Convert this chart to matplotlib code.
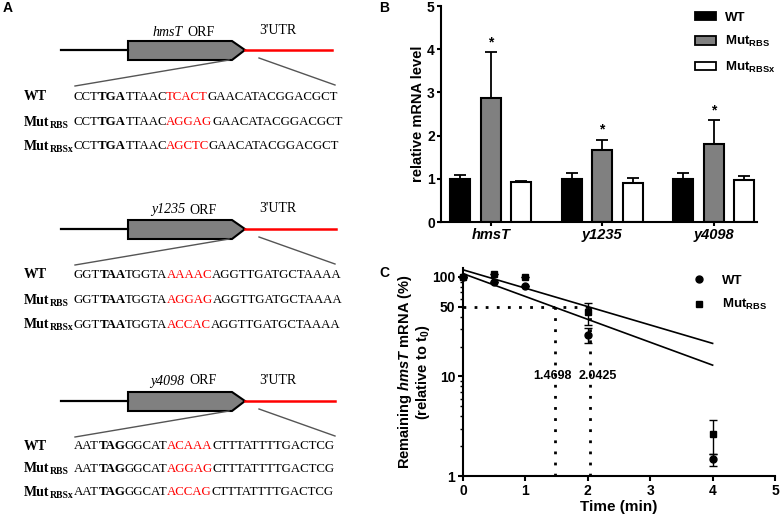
import matplotlib
matplotlib.use("Agg")
import matplotlib.pyplot as plt
from matplotlib.patches import Polygon, Rectangle
from matplotlib.lines import Line2D
from matplotlib.font_manager import FontProperties
from matplotlib.textpath import TextPath

plt.rcParams['font.family'] = ['Liberation Sans', 'DejaVu Sans']
plt.rcParams['mathtext.fontset'] = 'custom'
plt.rcParams['mathtext.rm'] = 'Liberation Sans'
plt.rcParams['mathtext.bf'] = 'Liberation Sans:bold'
plt.rcParams['mathtext.it'] = 'Liberation Sans:italic:bold'

#data panel A ---------------------------
genes = ["hmsT", "y1235", "y4098"]
row_names = [("WT", ""), ("Mut", "RBS"), ("Mut", "RBSx")]
# each sequence = (prefix, stop codon, middle, red site, tail)
seqs = {
    "hmsT": [("CCT", "TGA", "TTAAC", "TCACT", "GAACATACGGACGCT"),
             ("CCT", "TGA", "TTAAC", "AGGAG", "GAACATACGGACGCT"),
             ("CCT", "TGA", "TTAAC", "AGCTC", "GAACATACGGACGCT")],
    "y1235": [("GGT", "TAA", "TGGTA", "AAAAC", "AGGTTGATGCTAAAA"),
              ("GGT", "TAA", "TGGTA", "AGGAG", "AGGTTGATGCTAAAA"),
              ("GGT", "TAA", "TGGTA", "ACCAC", "AGGTTGATGCTAAAA")],
    "y4098": [("AAT", "TAG", "GGCAT", "ACAAA", "CTTTATTTTGACTCG"),
              ("AAT", "TAG", "GGCAT", "AGGAG", "CTTTATTTTGACTCG"),
              ("AAT", "TAG", "GGCAT", "ACCAG", "CTTTATTTTGACTCG")],
}

#data panel B ---------------------------
groups = ["hmsT", "y1235", "y4098"]
wt_mean = [1.0, 1.0, 1.0]
wt_err = [0.09, 0.14, 0.14]
rbs_mean = [2.88, 1.67, 1.81]
rbs_err = [1.05, 0.22, 0.56]
rbsx_mean = [0.93, 0.91, 0.98]
rbsx_err = [0.03, 0.11, 0.09]
star_y = [4.15, 2.15, 2.58]

#data panel C ---------------------------
t_wt = [0, 0.5, 1, 2, 4]
wt_pct = [100, 89, 82, 26.4, 1.47]
wt_sd = [0, 0, 0, 4.6, 0.21]
t_mut = [0, 0.5, 1, 2, 4]
mut_pct = [100, 108, 100, 44, 2.67]
mut_sd = [0, 0, 0, 11, 1.0]
fit_t = [0, 4]
wt_fit = [108, 13.0]
mut_fit = [118, 21.5]
half_wt = 1.4698
half_mut = 2.0425

SERIF = "Liberation Serif"


def ink_width(s, size, weight="normal", style="normal"):
    # width of the inked glyphs in pixels at 100 dpi
    p = TextPath((0, 0), s, size=size * 100 / 72.0,
                 prop=FontProperties(family=SERIF, weight=weight, style=style))
    e = p.get_extents()
    return e.x1 - e.x0


fig = plt.figure(figsize=(7.8, 5.17), dpi=100)

# ---------------- panel A (drawn in pixel space) ----------------
axa = fig.add_axes([0, 0, 1, 1])
axa.set_xlim(0, 780)
axa.set_ylim(517, 0)
axa.axis("off")

line_y = [50, 229, 401]
row_y = [[97, 122, 146], [275, 300, 325], [446, 469, 492]]
label_y = [32, 210, 381]
red_end = [332, 336, 335]
seq_fs = 9.3
lab_fs = 10
gap = -0.3

for g, gene in enumerate(genes):
    y = line_y[g]
    axa.plot([61, 128], [y, y], color="black", lw=1.6)
    axa.plot([245, red_end[g]], [y, y], color="red", lw=1.8)
    axa.add_patch(Polygon([[128, y - 9], [232, y - 9], [245, y], [232, y + 10], [128, y + 10]],
                          closed=True, facecolor="#808080", edgecolor="black", lw=1.5))
    axa.plot([229, 75], [y + 10, y + 36], color="#555555", lw=1)
    axa.plot([259, 335], [y + 8, y + 35], color="#555555", lw=1)
    wi = ink_width(gene, lab_fs, style="italic")
    wr = ink_width("ORF", lab_fs)
    x0 = 183 - (wi + wr + 4) / 2
    axa.text(x0, label_y[g], gene, fontsize=lab_fs, family=SERIF, style="italic",
             ha="left", va="center")
    axa.text(x0 + wi + 4, label_y[g], "ORF", fontsize=lab_fs, family=SERIF,
             ha="left", va="center")
    axa.text(278, label_y[g] - 1, "3'UTR", fontsize=lab_fs, family=SERIF,
             ha="center", va="center")
    for r in range(3):
        ry = row_y[g][r]
        main, sub = row_names[r]
        axa.text(24, ry, main, fontsize=lab_fs, family=SERIF, fontweight="bold",
                 ha="left", va="center")
        if sub:
            axa.text(24 + ink_width(main, lab_fs, weight="bold") + 0.5, ry + 3, sub, fontsize=7,
                     family=SERIF, fontweight="bold", ha="left", va="center")
        parts = seqs[gene][r]
        styles = [("normal", "black"), ("bold", "black"), ("normal", "black"),
                  ("normal", "red"), ("normal", "black")]
        xs = 74
        for s, (w, c) in zip(parts, styles):
            axa.text(xs, ry, s, fontsize=seq_fs, family=SERIF, fontweight=w, color=c,
                     ha="left", va="center")
            xs += ink_width(s, seq_fs, weight=w) + gap

fs = 10
axa.text(3, 8, "A", fontsize=fs, fontweight="bold", ha="left", va="center")
axa.text(379, 8, "B", fontsize=fs, fontweight="bold", ha="left", va="center")
axa.text(379, 273, "C", fontsize=fs, fontweight="bold", ha="left", va="center")

# ---------------- panel B ----------------
axb = fig.add_axes([441 / 780, 1 - 222 / 517, 316 / 780, 216 / 517])
x = [0, 1, 2]
off = 0.274
w = 0.18
for xs_, m, e, col in [([i - off for i in x], wt_mean, wt_err, "black"),
                       (x, rbs_mean, rbs_err, "#808080"),
                       ([i + off for i in x], rbsx_mean, rbsx_err, "white")]:
    axb.bar(xs_, m, width=w, color=col, edgecolor="black", linewidth=1.5, zorder=2)
    axb.errorbar(xs_, m, yerr=[[0] * 3, e], fmt="none", ecolor="black", elinewidth=1.3,
                 capsize=4, capthick=1.3, zorder=1)
for i in x:
    axb.text(i, star_y[i], "*", ha="center", va="center", fontsize=10, fontweight="bold")
axb.set_xlim(-0.447, 2.39)
axb.set_ylim(0, 5)
axb.set_yticks([0, 1, 2, 3, 4, 5])
axb.set_xticks(x)
axb.set_xticklabels(groups, fontstyle="italic", fontweight="bold", fontsize=10.5)
for lab in axb.get_yticklabels():
    lab.set_fontweight("bold")
    lab.set_fontsize(10)
axb.set_ylabel("relative mRNA level", fontsize=10.5, fontweight="bold")
axb.yaxis.set_label_coords(-0.05, 0.5)
for sp in ["top", "right"]:
    axb.spines[sp].set_visible(False)
for sp in ["left", "bottom"]:
    axb.spines[sp].set_linewidth(1.5)
axb.tick_params(width=1.5, length=3, pad=1.5)
hb = [Rectangle((0, 0), 1, 1, facecolor=c, edgecolor="black", lw=1.3)
      for c in ["black", "#808080", "white"]]
axb.legend(hb, ["WT", r"$\mathbf{Mut}_{\mathbf{RBS}}$", r"$\mathbf{Mut}_{\mathbf{RBSx}}$"],
           loc="upper left", bbox_to_anchor=(688 / 780, 1 - 5 / 517),
           bbox_transform=fig.transFigure, frameon=False, borderpad=0,
           handlelength=1.6, handleheight=0.6, labelspacing=0.8, handletextpad=0.7,
           prop={"weight": "bold", "size": 9.5})

# ---------------- panel C ----------------
axc = fig.add_axes([463 / 780, 41 / 517, 312 / 780, 208 / 517])
axc.set_yscale("log")
axc.plot(fit_t, wt_fit, color="black", lw=1.2)
axc.plot(fit_t, mut_fit, color="black", lw=1.2)
axc.errorbar(t_wt, wt_pct, yerr=wt_sd, fmt="o", color="black", ms=5, capsize=3,
             elinewidth=1, capthick=1, clip_on=False, zorder=3)
axc.errorbar(t_mut, mut_pct, yerr=mut_sd, fmt="s", color="black", ms=5, capsize=3,
             elinewidth=1, capthick=1, clip_on=False, zorder=3)
dot = (0, (1, 3))
axc.plot([0, half_mut], [50, 50], color="black", lw=2, ls=dot)
axc.plot([half_wt, half_wt], [1, 50], color="black", lw=2, ls=dot)
axc.plot([half_mut, half_mut], [1, 55], color="black", lw=2, ls=dot)
axc.text(half_wt - 0.04, 10, "1.4698", ha="center", va="center", fontsize=9, fontweight="bold")
axc.text(half_mut + 0.12, 10, "2.0425", ha="center", va="center", fontsize=9, fontweight="bold")
axc.set_xlim(0, 5)
axc.set_ylim(1, 123)
axc.set_yticks([1, 10, 50, 100])
axc.set_yticklabels(["1", "10", "50", "100"])
axc.set_xticks([0, 1, 2, 3, 4, 5])
for lab in axc.get_xticklabels() + axc.get_yticklabels():
    lab.set_fontweight("bold")
    lab.set_fontsize(10)
axc.set_xlabel("Time (min)", fontsize=11, fontweight="bold", labelpad=2)
axc.set_ylabel("Remaining $\\mathit{hmsT}$ mRNA (%)\n(relative to $\\mathbf{t}_{\\mathbf{0}}$)",
               fontsize=10.5, fontweight="bold", linespacing=1.0)
axc.yaxis.set_label_coords(-0.1, 0.5)
for sp in ["top", "right"]:
    axc.spines[sp].set_visible(False)
for sp in ["left", "bottom"]:
    axc.spines[sp].set_linewidth(1.5)
axc.tick_params(which="major", width=1.5, length=3.5, pad=2)
axc.tick_params(which="minor", width=1, length=2.5, labelleft=False)
hc = [Line2D([], [], marker="o", color="black", ls="none", ms=5),
      Line2D([], [], marker="s", color="black", ls="none", ms=5)]
axc.legend(hc, ["WT", r"$\mathbf{Mut}_{\mathbf{RBS}}$"], loc="upper left",
           bbox_to_anchor=(684 / 780, 1 - 268 / 517), bbox_transform=fig.transFigure,
           frameon=False, borderpad=0, handlelength=1.2, labelspacing=0.8, handletextpad=1.2,
           prop={"weight": "bold", "size": 9.5})

fig.savefig("out.png", dpi=100)
